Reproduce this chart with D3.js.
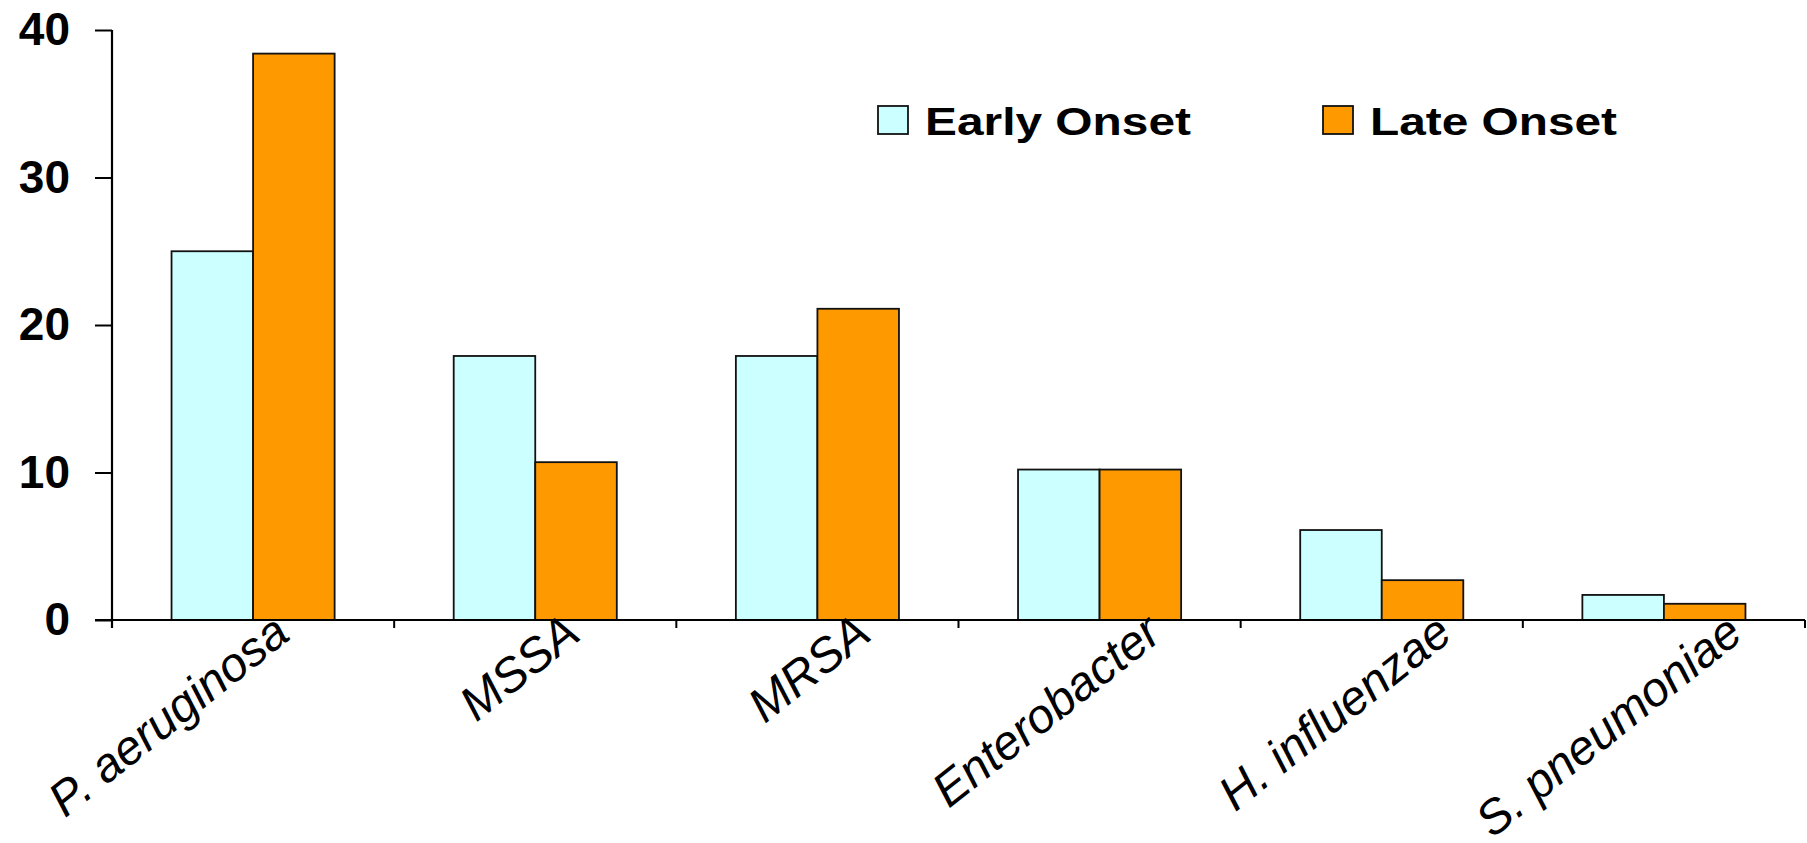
<!DOCTYPE html>
<html>
<head>
<meta charset="utf-8">
<script src="https://cdn.jsdelivr.net/npm/d3@7"></script>
<style>
  html, body { margin: 0; padding: 0; background: #fff; }
  svg { display: block; }
  text { font-family: "Liberation Sans", Arial, sans-serif; fill: #000; }
</style>
</head>
<body>
<svg id="chart" width="1807" height="843"></svg>
<script>
const categories = ["P. aeruginosa", "MSSA", "MRSA", "Enterobacter", "H. influenzae", "S. pneumoniae"];
const seriesNames = ["Early Onset", "Late Onset"];
const earlyOnset = [25, 17.9, 17.9, 10.2, 6.1, 1.7];
const lateOnset = [38.4, 10.7, 21.1, 10.2, 2.7, 1.1];
const yTicks = [0, 10, 20, 30, 40];
const seriesColors = ["#CCFFFF", "#FF9900"];

const svg = d3.select("#chart");
const x0 = 112, x1 = 1805, yTop = 30, yBottom = 620;

const x = d3.scaleBand().domain(categories).range([x0, x1]).paddingInner(0).paddingOuter(0);
const groupFrac = 0.578;
const xs = d3.scaleBand().domain(seriesNames)
  .range([x.bandwidth() * (0.5 - groupFrac / 2), x.bandwidth() * (0.5 + groupFrac / 2)]);
const y = d3.scaleLinear().domain([0, 40]).range([yBottom, yTop]);

const valuesBySeries = [earlyOnset, lateOnset];
const rows = categories.map((c, i) => ({ cat: c, vals: seriesNames.map((s, k) => ({ s, k, v: valuesBySeries[k][i] })) }));

// bars
const g = svg.append("g");
g.selectAll("g.cat").data(rows).join("g")
  .attr("class", "cat")
  .attr("transform", d => `translate(${x(d.cat)},0)`)
  .selectAll("rect").data(d => d.vals).join("rect")
  .attr("x", d => xs(d.s))
  .attr("width", xs.bandwidth())
  .attr("y", d => y(d.v))
  .attr("height", d => y(0) - y(d.v))
  .attr("fill", d => seriesColors[d.k])
  .attr("stroke", "#111")
  .attr("stroke-width", 1.8);

// y axis
const yAxis = d3.axisLeft(y).tickValues(yTicks).tickSize(17).tickFormat(d3.format("d")).tickPadding(25);
const yg = svg.append("g").attr("transform", `translate(${x0},0)`).call(yAxis);
yg.select(".domain").remove();
yg.selectAll(".tick line").attr("stroke", "#000").attr("stroke-width", 2);
yg.selectAll(".tick text")
  .attr("font-size", 46).attr("font-weight", "bold")
  .style("font-family", "'Liberation Sans', Arial, sans-serif")
  .attr("fill", "#000");
svg.append("line").attr("x1", x0).attr("x2", x0).attr("y1", y(40)).attr("y2", yBottom + 8)
  .attr("stroke", "#000").attr("stroke-width", 2.2);

// x axis
svg.append("line").attr("x1", x0 - 17).attr("x2", x1).attr("y1", yBottom).attr("y2", yBottom)
  .attr("stroke", "#000").attr("stroke-width", 2);
const tickPositions = categories.map(c => x(c)).concat([x1]);
svg.selectAll("line.xtick").data(tickPositions).join("line")
  .attr("class", "xtick")
  .attr("x1", d => d).attr("x2", d => d)
  .attr("y1", yBottom).attr("y2", yBottom + 8)
  .attr("stroke", "#000").attr("stroke-width", 2);

// x labels (rotated, italic)
const labelX = d3.scalePoint().domain(categories).range([292, 1745]);
svg.selectAll("text.xlab").data(categories).join("text")
  .attr("class", "xlab")
  .attr("transform", d => `translate(${labelX(d)},638) rotate(-38.5)`)
  .attr("text-anchor", "end")
  .attr("font-size", 48)
  .attr("font-style", "italic")
  .text(d => d);

// legend
const legendItems = [
  { name: seriesNames[0], color: seriesColors[0], bx: 878, tx: 925, tw: 266 },
  { name: seriesNames[1], color: seriesColors[1], bx: 1323, tx: 1370, tw: 247 }
];
const lg = svg.append("g");
lg.selectAll("rect").data(legendItems).join("rect")
  .attr("x", d => d.bx).attr("y", 106).attr("width", 30).attr("height", 28)
  .attr("fill", d => d.color).attr("stroke", "#111").attr("stroke-width", 1.8);
lg.selectAll("text").data(legendItems).join("text")
  .attr("x", d => d.tx).attr("y", 135)
  .attr("font-size", 39).attr("font-weight", "bold")
  .attr("textLength", d => d.tw).attr("lengthAdjust", "spacingAndGlyphs")
  .text(d => d.name);
</script>
</body>
</html>
